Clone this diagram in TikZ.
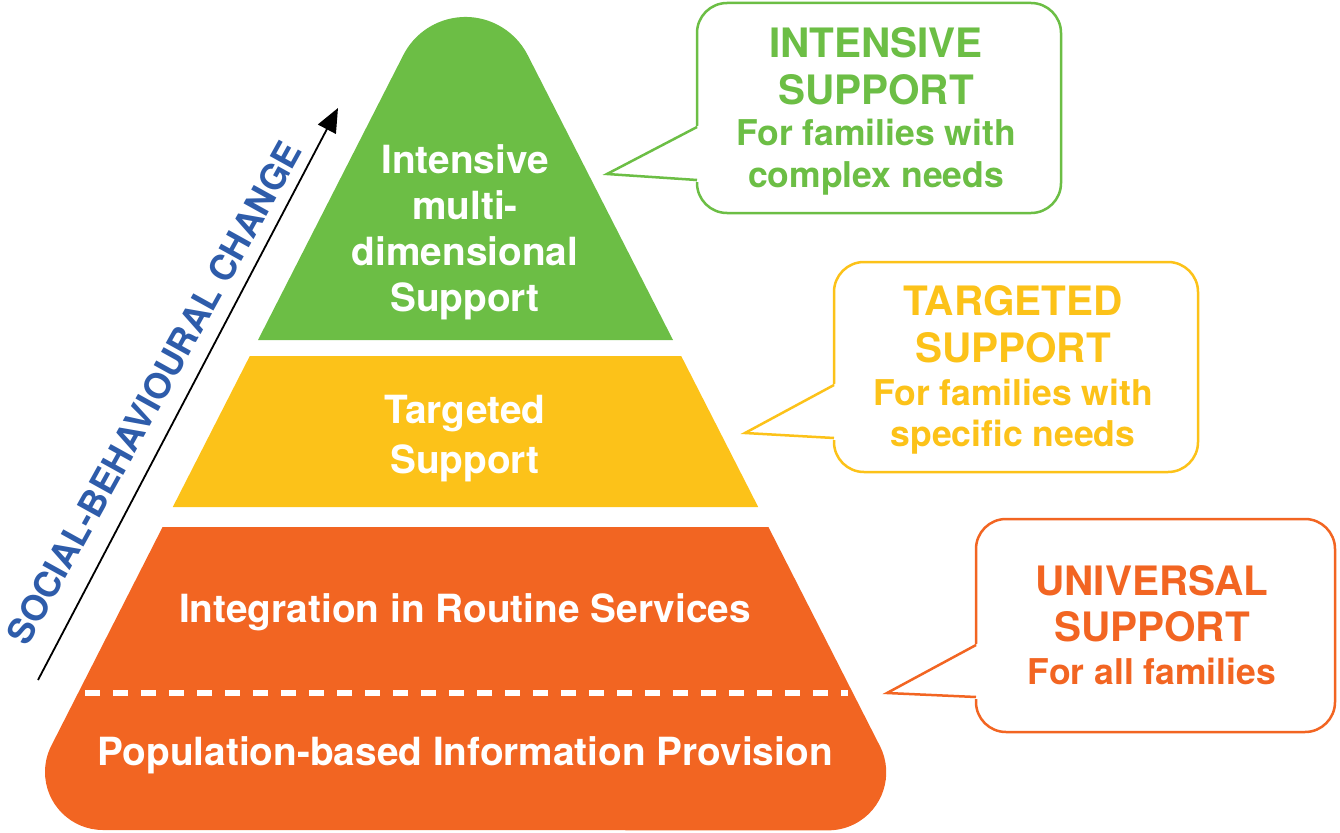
\documentclass[tikz,border=0pt]{standalone}
\usepackage{fontspec}
\setmainfont{TeX Gyre Heros}
\usetikzlibrary{arrows.meta}
\definecolor{pgreen}{HTML}{6CBE45}
\definecolor{pyellow}{HTML}{FCC219}
\definecolor{porange}{HTML}{F26522}
\definecolor{pblue}{HTML}{2E5CAA}
\tikzset{
  ptext/.style={anchor=base, text=white, inner sep=0pt, font=\bfseries\fontsize{38.8}{40}\selectfont},
  chead/.style={anchor=base, inner sep=0pt, font=\bfseries\fontsize{40.5}{42}\selectfont},
  csub/.style={anchor=base, inner sep=0pt, font=\bfseries\fontsize{35.5}{37}\selectfont},
  cbox/.style={draw, line width=2.5pt, fill=white, rounded corners=30pt, rectangle, inner sep=0pt},
  cptr/.style={line width=2.5pt, line join=miter},
}
\begin{document}
\begin{tikzpicture}[x=1pt,y=-1pt]
\useasboundingbox (0,0) rectangle (1340,832);
% pyramid bands
\fill[pgreen] (258,340) -- (403.3,55.1) arc[start angle=153, end angle=27, radius=69.8pt] -- (673,340) -- cycle;
\fill[pyellow] (249.8,356) -- (681.2,356) -- (758.2,507) -- (172.8,507) -- cycle;
\fill[porange] (162.6,527) -- (768.4,527) -- (879.9,746) arc[start angle=27, end angle=-90, radius=58pt] -- (103,830) arc[start angle=270, end angle=153, radius=58pt] -- cycle;
\draw[white, line width=5.5pt, dash pattern=on 15pt off 13pt] (85,693) -- (848,693);
% pyramid texts
\node[ptext] (g1) at (465,173) {Intensive};
\node[ptext] (g2) at (465,219) {multi-};
\node[ptext] (g3) at (465,265) {dimensional};
\node[ptext] (g4) at (465,311) {Support};
\node[ptext] (y1) at (465,423) {Targeted};
\node[ptext] (y2) at (465,473) {Support};
\node[ptext] (o1) at (465,622) {Integration in Routine Services};
\node[ptext] (o2) at (465,765) {Population-based Information Provision};
% arrow and label
\coordinate (arrS) at (38,680);
\coordinate (arrE) at (338,108);
\draw[line width=1.8pt, -{Triangle[length=24pt,width=20pt]}] (arrS) -- (arrE);
\node[text=pblue, rotate=61, inner sep=0pt, font=\bfseries\fontsize{35.5}{38}\selectfont] (lab) at (154,393) {SOCIAL-BEHAVIOURAL CHANGE};
% green callout
\node[cbox, draw=pgreen, minimum width=364pt, minimum height=210pt] (gbox) at (879,108) {};
\coordinate (gp1) at (697,127);
\coordinate (gp2) at (697,180);
\coordinate (gtip) at (607,174);
\fill[white] (700,125) -- (gtip) -- (700,182) -- cycle;
\draw[cptr, pgreen] (gp1) -- (gtip) -- (gp2);
\node[chead, text=pgreen] (gh1) at (876,58) {INTENSIVE};
\node[chead, text=pgreen] (gh2) at (876,105) {SUPPORT};
\node[csub, text=pgreen] (gs1) at (876,145) {For families with};
\node[csub, text=pgreen] (gs2) at (876,187) {complex needs};
% yellow callout
\node[cbox, draw=pyellow, minimum width=364pt, minimum height=210pt] (ybox) at (1016,367) {};
\coordinate (yp1) at (834,385);
\coordinate (yp2) at (834,438);
\coordinate (ytip) at (745,433);
\fill[white] (837,383) -- (ytip) -- (837,440) -- cycle;
\draw[cptr, pyellow] (yp1) -- (ytip) -- (yp2);
\node[chead, text=pyellow] (yh1) at (1013,315) {TARGETED};
\node[chead, text=pyellow] (yh2) at (1013,362) {SUPPORT};
\node[csub, text=pyellow] (ys1) at (1013,405) {For families with};
\node[csub, text=pyellow] (ys2) at (1013,446) {specific needs};
% orange callout
\node[cbox, draw=porange, minimum width=359pt, minimum height=213pt] (obox) at (1155.5,625.5) {};
\coordinate (op1) at (976,645);
\coordinate (op2) at (976,697);
\coordinate (otip) at (887,693);
\fill[white] (979,643) -- (otip) -- (979,699) -- cycle;
\draw[cptr, porange] (op1) -- (otip) -- (op2);
\node[chead, text=porange] (oh1) at (1152,595) {UNIVERSAL};
\node[chead, text=porange] (oh2) at (1152,641) {SUPPORT};
\node[csub, text=porange] (os1) at (1152,684) {For all families};
\end{tikzpicture}
\end{document}
